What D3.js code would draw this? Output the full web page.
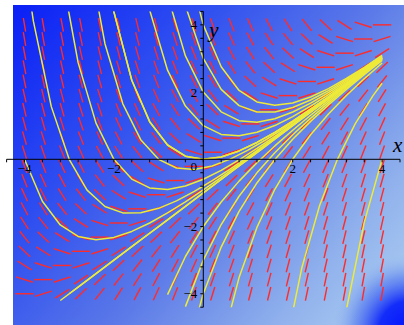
<!DOCTYPE html>
<html>
<head>
<meta charset="utf-8">
<script src="https://cdn.jsdelivr.net/npm/d3@7"></script>
<style>
  html, body { margin: 0; padding: 0; background: #ffffff; }
  svg { display: block; }
</style>
</head>
<body>
<script>
// Direction field of dy/dx = x - y with solution curves.

// View window (both axes)
const xView = [-4.4, 4.4];
const yView = [-4.4, 4.4];

// Slope-field grid: 20 x 20 points over [-4, 4]
const gridX = d3.range(20).map(i => -4 + i * 8 / 19);
const gridY = d3.range(20).map(i => -4 + i * 8 / 19);

// Initial conditions y(x0) = 0
const zeroAtX = [-4, -3, -2, -1, 0, 1, 2, 3, 4];
// Initial conditions y(0) = y0
const startAtY = [-4, -3, -2, -1, 0, 1, 2, 3, 4];

// Axis ticks and labels
const minorTicks = d3.range(-11, 12).map(k => k * 0.4);
const xTickValues = [-4, -2, 2, 4];
const xTickLabels = ["\u22124", "\u22122", "2", "4"];
const yTickValues = [-4, -2, 2, 4];
const yTickLabels = ["\u22124", "\u22122", "2", "4"];

const W = 404, H = 325;
const slope = (x, y) => x - y;

const x = d3.scaleLinear().domain(xView).range([6.6, 400.0]);
const y = d3.scaleLinear().domain(yView).range([307.2, 11.4]);

const svg = d3.select("body").append("svg")
  .attr("width", W).attr("height", H);

const defs = svg.append("defs");

const lin = defs.append("linearGradient")
  .attr("id", "bgLin").attr("gradientUnits", "userSpaceOnUse")
  .attr("x1", 13).attr("y1", 5).attr("x2", 404).attr("y2", 325);
[[0, "#0a1ff6"], [0.3, "#2f4ff0"], [0.55, "#5a78e8"], [0.8, "#8fb0ec"], [1, "#b0d2f2"]]
  .forEach(([o, c]) => lin.append("stop").attr("offset", o).attr("stop-color", c));

const rad = defs.append("radialGradient")
  .attr("id", "bgCorner").attr("gradientUnits", "userSpaceOnUse")
  .attr("cx", 410).attr("cy", 332).attr("r", 78);
[[0, "#0010ff", 1], [0.4, "#0c24fa", 0.95], [0.72, "#3a60f0", 0.45], [1, "#8fb0ec", 0]]
  .forEach(([o, c, a]) => rad.append("stop").attr("offset", o)
    .attr("stop-color", c).attr("stop-opacity", a));

defs.append("clipPath").attr("id", "view")
  .append("rect")
  .attr("x", x(xView[0])).attr("y", y(yView[1]))
  .attr("width", x(xView[1]) - x(xView[0]))
  .attr("height", y(yView[0]) - y(yView[1]));

// Background panel
svg.append("rect").attr("x", 13).attr("y", 5).attr("width", W - 13).attr("height", H - 5)
  .attr("fill", "url(#bgLin)");
svg.append("rect").attr("x", 13).attr("y", 5).attr("width", W - 13).attr("height", H - 5)
  .attr("fill", "url(#bgCorner)");

// Slope segments, fixed length in data units, centred on each grid point
const half = 0.205;
const segs = [];
gridX.forEach(gx => gridY.forEach(gy => {
  const a = Math.atan(slope(gx, gy));
  segs.push({
    x1: gx - half * Math.cos(a), y1: gy - half * Math.sin(a),
    x2: gx + half * Math.cos(a), y2: gy + half * Math.sin(a)
  });
}));

svg.append("g").attr("class", "field")
  .selectAll("line").data(segs).join("line")
  .attr("x1", d => x(d.x1)).attr("y1", d => y(d.y1))
  .attr("x2", d => x(d.x2)).attr("y2", d => y(d.y2))
  .attr("stroke", "#ff2a2a").attr("stroke-width", 1.4)
  .attr("stroke-linecap", "butt");

// Solution curves: RK4 with step 0.4, both directions from the initial point,
// stopping after the first point that leaves the y-range.
const h = 0.4, xLim = [-4, 4], yStop = [-4, 4.4];
function rk4(x0, y0, dir) {
  const pts = [];
  let cx = x0, cy = y0;
  while (true) {
    let step = dir * h;
    if (dir > 0 && cx + step > xLim[1]) step = xLim[1] - cx;
    if (dir < 0 && cx + step < xLim[0]) step = xLim[0] - cx;
    if (Math.abs(step) < 1e-9) break;
    const k1 = slope(cx, cy);
    const k2 = slope(cx + step / 2, cy + step * k1 / 2);
    const k3 = slope(cx + step / 2, cy + step * k2 / 2);
    const k4 = slope(cx + step, cy + step * k3);
    cy = cy + step * (k1 + 2 * k2 + 2 * k3 + k4) / 6;
    cx = cx + step;
    pts.push([cx, cy]);
    if (cy <= yStop[0] + 1e-9 || cy > yStop[1]) break;
  }
  return pts;
}
function solution(x0, y0) {
  const left = rk4(x0, y0, -1).reverse();
  const right = rk4(x0, y0, 1);
  return left.concat([[x0, y0]], right);
}

const curves = zeroAtX.map(x0 => solution(x0, 0))
  .concat(startAtY.map(y0 => solution(0, y0)));

const line = d3.line().x(d => x(d[0])).y(d => y(d[1]));

svg.append("g").attr("clip-path", "url(#view)")
  .selectAll("path").data(curves).join("path")
  .attr("d", line)
  .attr("fill", "none")
  .attr("stroke", "#eeea38")
  .attr("stroke-width", 1.5)
  .attr("stroke-linejoin", "round");

// Axes through the origin
const axes = svg.append("g").attr("stroke", "#000").attr("stroke-width", 1);
axes.append("line")
  .attr("x1", x(xView[0])).attr("x2", x(xView[1]))
  .attr("y1", y(0)).attr("y2", y(0));
axes.append("line")
  .attr("x1", x(0)).attr("x2", x(0))
  .attr("y1", y(yView[0])).attr("y2", y(yView[1]));

axes.selectAll("line.xt").data(minorTicks).join("line").attr("class", "xt")
  .attr("x1", d => x(d)).attr("x2", d => x(d))
  .attr("y1", y(0)).attr("y2", y(0) + 3);
axes.selectAll("line.yt").data(minorTicks).join("line").attr("class", "yt")
  .attr("x1", x(0) - 3).attr("x2", x(0))
  .attr("y1", d => y(d)).attr("y2", d => y(d));

const font = "'Liberation Serif', 'Times New Roman', serif";

svg.append("g").selectAll("text").data(xTickValues).join("text")
  .attr("x", d => x(d)).attr("y", y(0) + 14)
  .attr("text-anchor", "middle")
  .attr("font-family", font).attr("font-size", 13)
  .text((d, i) => xTickLabels[i]);

svg.append("text")
  .attr("x", x(0) - 9.5).attr("y", y(0) + 12)
  .attr("text-anchor", "middle")
  .attr("font-family", font).attr("font-size", 13)
  .text("0");

svg.append("g").selectAll("text").data(yTickValues).join("text")
  .attr("x", x(0) - 6).attr("y", d => y(d) + 4.5)
  .attr("text-anchor", "end")
  .attr("font-family", font).attr("font-size", 13)
  .text((d, i) => yTickLabels[i]);

svg.append("text")
  .attr("x", x(xView[1]) - 7).attr("y", y(0) - 7)
  .attr("font-family", font).attr("font-style", "italic").attr("font-size", 21)
  .text("x");

svg.append("text")
  .attr("x", x(0) + 6).attr("y", 37)
  .attr("font-family", font).attr("font-style", "italic").attr("font-size", 21)
  .text("y");
</script>
</body>
</html>
